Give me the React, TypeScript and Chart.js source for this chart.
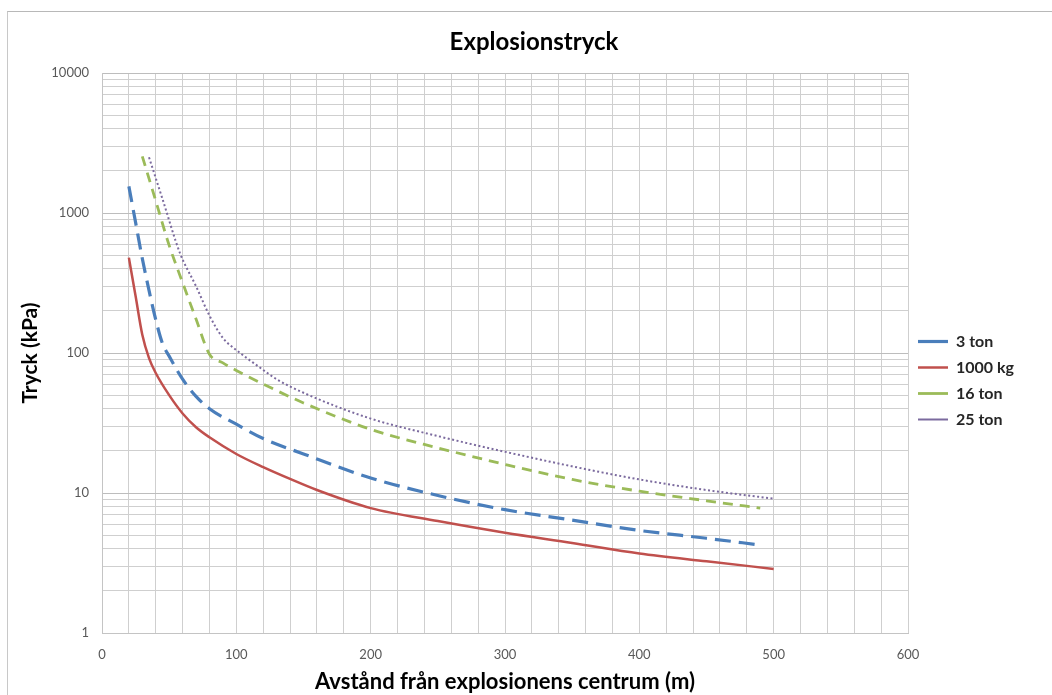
import React, { useEffect, useRef } from 'react';
import { Chart, registerables } from 'chart.js';

Chart.register(...registerables);

// ---- Data ----
const chartTitle = 'Explosionstryck';
const xAxisTitle = 'Avstånd från explosionens centrum (m)';
const yAxisTitle = 'Tryck (kPa)';

const seriesNames = ['3 ton', '1000 kg', '16 ton', '25 ton'];

const dist3ton = [20, 25, 30, 35, 40, 45, 50, 60, 70, 80, 100, 120, 150, 200, 250, 300, 350, 400, 450, 490];
const tryck3ton = [1550, 857, 473, 280, 173, 117, 95, 65, 49, 40, 31, 24.5, 19, 12.8, 9.6, 7.6, 6.4, 5.4, 4.75, 4.25];

const dist1000kg = [20, 25, 30, 35, 40, 50, 60, 70, 80, 100, 120, 140, 160, 200, 250, 300, 350, 400, 450, 500];
const tryck1000kg = [480, 255, 135, 92, 72, 50, 37, 29.5, 25, 19, 15.3, 12.6, 10.5, 7.8, 6.3, 5.2, 4.4, 3.7, 3.25, 2.87];

const dist16ton = [30, 40, 50, 60, 70, 80, 90, 100, 120, 150, 200, 250, 300, 350, 400, 450, 490];
const tryck16ton = [2540, 1222, 587, 318, 175, 98, 85, 75, 60, 44, 28.5, 21, 16, 12.5, 10.3, 8.8, 7.8];

const dist25ton = [35, 45, 58, 70, 80, 90, 100, 115, 130, 150, 200, 250, 300, 350, 400, 450, 500];
const tryck25ton = [2500, 1262, 518, 300, 185, 128, 105, 82, 65, 52, 34, 25.5, 19.7, 15.5, 12.5, 10.5, 9.1];

const xMin = 0;
const xMax = 600;
const xGridStep = 20;
const xLabelStep = 100;
const yMin = 1;
const yMax = 10000;
const yMinorMultipliers = [1, 2, 3, 4, 5, 6, 7, 8, 9];

const FONT = 'Lato, "Open Sans", "Liberation Sans", sans-serif';
const LEGEND_WIDTH = 153;

const toPoints = (xs: number[], ys: number[]) => xs.map((x, i) => ({ x, y: ys[i] }));

const legendWidthPlugin = {
  id: 'legendWidth',
  beforeLayout(chart: any) {
    const lg = chart.legend;
    if (lg && !lg.__fixedWidth) {
      const orig = lg.fit.bind(lg);
      lg.fit = () => {
        orig();
        lg.width = LEGEND_WIDTH;
      };
      lg.__fixedWidth = true;
    }
  },
};

export default function App() {
  const canvasRef = useRef<HTMLCanvasElement | null>(null);

  useEffect(() => {
    const canvas = canvasRef.current;
    if (!canvas) return;

    const isDecade = (v: number) => {
      const l = Math.log10(v);
      return Math.abs(l - Math.round(l)) < 1e-9;
    };

    const chart = new Chart(canvas, {
      type: 'line',
      plugins: [legendWidthPlugin],
      data: {
        datasets: [
          {
            label: seriesNames[0],
            data: toPoints(dist3ton, tryck3ton),
            borderColor: '#4A7EBB',
            backgroundColor: '#4A7EBB',
            borderWidth: 3.2,
            borderDash: [16, 8],
            pointRadius: 0,
            cubicInterpolationMode: 'monotone',
            fill: false,
          },
          {
            label: seriesNames[1],
            data: toPoints(dist1000kg, tryck1000kg),
            borderColor: '#C0504D',
            backgroundColor: '#C0504D',
            borderWidth: 2.5,
            pointRadius: 0,
            cubicInterpolationMode: 'monotone',
            fill: false,
          },
          {
            label: seriesNames[2],
            data: toPoints(dist16ton, tryck16ton),
            borderColor: '#9BBB59',
            backgroundColor: '#9BBB59',
            borderWidth: 2.8,
            borderDash: [10, 7],
            pointRadius: 0,
            cubicInterpolationMode: 'monotone',
            fill: false,
          },
          {
            label: seriesNames[3],
            data: toPoints(dist25ton, tryck25ton),
            borderColor: '#7B6A9E',
            backgroundColor: '#7B6A9E',
            borderWidth: 2,
            borderDash: [2, 2.5],
            pointRadius: 0,
            cubicInterpolationMode: 'monotone',
            fill: false,
          },
        ],
      },
      options: {
        responsive: false,
        animation: false,
        devicePixelRatio: 1,
        parsing: false as any,
        layout: { padding: 0 },
        plugins: {
          title: {
            display: true,
            text: chartTitle,
            color: '#000000',
            font: { family: FONT, size: 24, weight: 'bold' },
            padding: { top: 27.6, bottom: 16.6 },
          },
          legend: {
            display: true,
            position: 'right',
            align: 'center',
            title: { display: true, text: '', padding: 0, font: { size: 55 } },
            labels: {
              usePointStyle: true,
              pointStyle: 'line',
              pointStyleWidth: 30,
              padding: 10,
              color: '#262626',
              font: { family: FONT, size: 16, weight: 'bold' },
            },
          },
          tooltip: { enabled: false },
        },
        scales: {
          x: {
            type: 'linear',
            min: xMin,
            max: xMax,
            afterFit: (scale: any) => {
              scale.height = 62;
            },
            grid: {
              color: '#cfcfcf',
              lineWidth: 1,
              drawTicks: false,
            },
            border: { color: '#c4c4c4' },
            ticks: {
              stepSize: xGridStep,
              autoSkip: false,
              maxRotation: 0,
              padding: 14,
              color: '#595959',
              font: { family: FONT, size: 13 },
              callback: (v: any) => (Number(v) % xLabelStep === 0 ? String(v) : ''),
            },
            title: {
              display: true,
              text: xAxisTitle,
              color: '#000000',
              font: { family: FONT, size: 22, weight: 'bold' },
              padding: { top: 0, bottom: 0 },
            },
          },
          y: {
            type: 'logarithmic',
            min: yMin,
            max: yMax,
            afterFit: (scale: any) => {
              scale.width = 95;
            },
            afterBuildTicks: (scale: any) => {
              const ticks: { value: number }[] = [];
              for (let d = yMin; d < yMax; d *= 10) {
                yMinorMultipliers.forEach((m) => ticks.push({ value: m * d }));
              }
              ticks.push({ value: yMax });
              scale.ticks = ticks;
            },
            grid: {
              color: (ctx: any) => (ctx.tick && isDecade(ctx.tick.value) ? '#bdbdbd' : '#cfcfcf'),
              lineWidth: 1,
              drawTicks: false,
            },
            border: { color: '#c4c4c4' },
            ticks: {
              autoSkip: false,
              padding: 13,
              color: '#595959',
              font: { family: FONT, size: 13 },
              callback: (v: any) => (isDecade(Number(v)) ? String(v) : ''),
            },
            title: {
              display: true,
              text: yAxisTitle,
              color: '#000000',
              font: { family: FONT, size: 21, weight: 'bold' },
              padding: { top: 10.4, bottom: 0 },
            },
          },
        },
      },
    } as any);

    return () => {
      chart.destroy();
    };
  }, []);

  return (
    <div
      style={{
        position: 'absolute',
        left: 0,
        top: 0,
        width: 1052,
        height: 695,
        overflow: 'hidden',
        background: '#ffffff',
      }}
    >
      <div
        style={{
          position: 'absolute',
          left: 7,
          top: 11,
          width: 1200,
          height: 900,
          borderTop: '1px solid #b8b8b8',
          borderLeft: '1px solid #c8c8c8',
          boxSizing: 'border-box',
        }}
      />
      <canvas
        ref={canvasRef}
        width={1054}
        height={695}
        style={{ position: 'absolute', left: 7, top: 0, width: 1054, height: 695 }}
      />
    </div>
  );
}
